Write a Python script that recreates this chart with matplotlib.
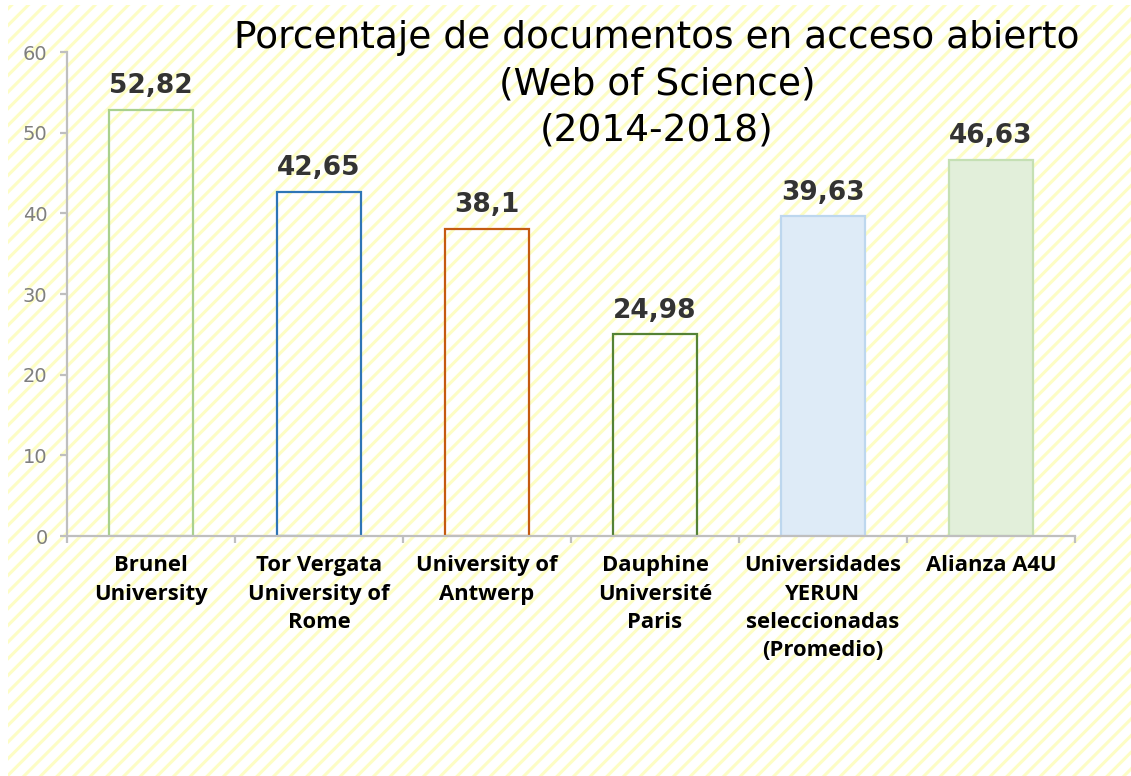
import matplotlib
matplotlib.use("Agg")
import matplotlib.pyplot as plt
from matplotlib.patches import Rectangle
from matplotlib import font_manager

categories = ["Brunel\nUniversity", "Tor Vergata\nUniversity of\nRome", "University of\nAntwerp",
              "Dauphine\nUniversité\nParis", "Universidades\nYERUN\nseleccionadas\n(Promedio)", "Alianza A4U"]
values = [52.82, 42.65, 38.1, 24.98, 39.63, 46.63]
value_labels = ["52,82", "42,65", "38,1", "24,98", "39,63", "46,63"]
yticks = [0, 10, 20, 30, 40, 50, 60]
title_lines = ["Porcentaje de documentos en acceso abierto", "(Web of Science)", "(2014-2018)"]

face_colors = ["none", "none", "none", "none", "#deebf7", "#e2efda"]
edge_colors = ["#a9d18e", "#2e75b6", "#c55a11", "#548235", "#bdd7ee", "#c5e0b4"]

# pick a bold humanist font for category labels
cat_family = "DejaVu Sans"
for fam in ["Open Sans", "Noto Sans", "Lato"]:
    try:
        fp = font_manager.findfont(font_manager.FontProperties(family=fam, weight="bold"),
                                   fallback_to_default=False)
        if "bold" in fp.lower():
            cat_family = fam
            break
    except Exception:
        pass

plt.rcParams['hatch.linewidth'] = 2.2
W, H = 1131, 776
fig = plt.figure(figsize=(W / 100, H / 100), dpi=100)
fig.patch.set_facecolor("white")

bg = Rectangle((8 / W, 0), 1 - 8 / W, 1 - 5 / H, transform=fig.transFigure,
               facecolor="white", edgecolor="#fdfdc4", hatch="//", linewidth=0, zorder=-10)
fig.patches.append(bg)

ax = fig.add_axes([67 / W, 1 - 536 / H, (1075 - 67) / W, (536 - 52) / H])
ax.patch.set_visible(False)

x = list(range(len(categories)))
ax.bar(x, values, width=0.5, color=face_colors, edgecolor=edge_colors, linewidth=1.6, zorder=1)

ax.set_xlim(-0.5, len(categories) - 0.5)
ax.set_ylim(0, 60)
ax.set_yticks(yticks)
ax.set_yticklabels([str(t) for t in yticks])

for s in ["top", "right"]:
    ax.spines[s].set_visible(False)
for s in ["left", "bottom"]:
    ax.spines[s].set_color("#bfbfbf")
    ax.spines[s].set_linewidth(1.6)

ax.tick_params(axis="y", colors="#bfbfbf", length=5, width=1.6, pad=9,
               labelsize=14, labelcolor="#7f7f7f")
ax.set_xticks([i - 0.5 for i in range(len(categories) + 1)])
ax.set_xticklabels([])
ax.tick_params(axis="x", colors="#bfbfbf", length=5, width=1.6)

for i, (v, lab) in enumerate(zip(values, value_labels)):
    ax.annotate(lab, (i, v), xytext=(0, 12), textcoords="offset points",
                ha="center", va="baseline", fontsize=19, fontweight="bold",
                color="#333333", family="DejaVu Sans")

cat_size = 15.8 if cat_family != "DejaVu Sans" else 13.5
for i, c in enumerate(categories):
    ax.annotate(c, (i, 0), xytext=(0, -14), textcoords="offset points",
                ha="center", va="top", fontsize=cat_size, fontweight="bold",
                color="black", family=cat_family, linespacing=1.45)

for line, yc in zip(title_lines, [38, 85, 130]):
    fig.text(657 / W, 1 - yc / H, line, ha="center", va="center", fontsize=27,
             family="DejaVu Sans", color="black")

fig.savefig("out.png", dpi=100)
